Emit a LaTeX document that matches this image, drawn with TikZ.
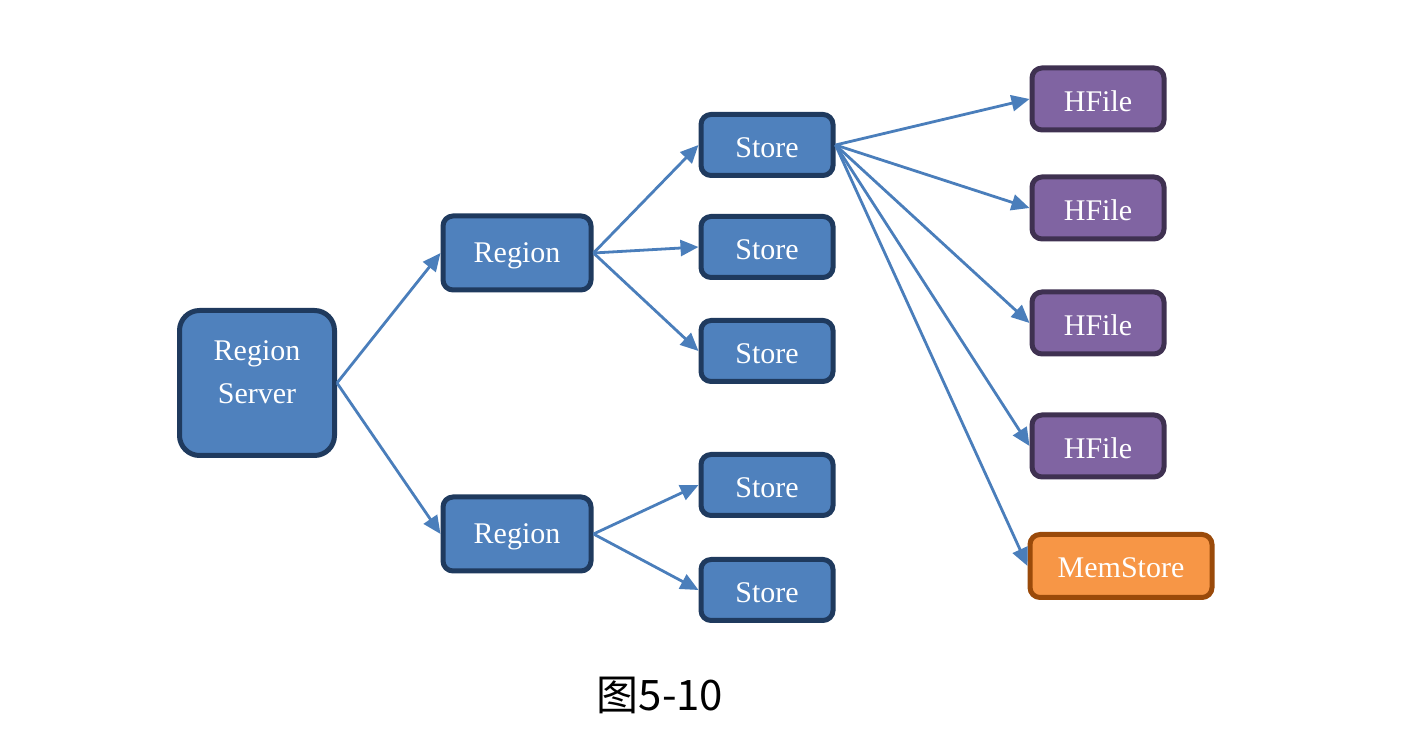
\documentclass[tikz,border=0pt]{standalone}
\usepackage{fontspec}
\setmainfont{Liberation Serif}
\newfontfamily\cjkfont{Noto Sans CJK SC}
\usetikzlibrary{arrows.meta}
\definecolor{bluefill}{HTML}{4F81BD}
\definecolor{blueedge}{HTML}{1F3A5E}
\definecolor{purplefill}{HTML}{8064A2}
\definecolor{purpleedge}{HTML}{3F3151}
\definecolor{orangefill}{HTML}{F79646}
\definecolor{orangeedge}{HTML}{9A4A0A}
\definecolor{arrowblue}{HTML}{4A7EBB}
\newcommand{\capline}[2][1.5pt]{\raisebox{-#1}[10pt][0pt]{#2}}
\tikzset{
  box/.style={rectangle, rounded corners=5pt, line width=2.5pt, inner sep=0pt,
    text=white, font=\fontsize{15}{18}\selectfont, align=center},
  bluebox/.style={box, fill=bluefill, draw=blueedge},
  purplebox/.style={box, fill=purplefill, draw=purpleedge},
  orangebox/.style={box, fill=orangefill, draw=orangeedge},
  storebox/.style={bluebox, minimum width=66pt, minimum height=30.5pt},
  regionbox/.style={bluebox, minimum width=74pt, minimum height=37pt},
  hfilebox/.style={purplebox, minimum width=66pt, minimum height=31pt},
  conn/.style={draw=arrowblue, line width=1.4pt, -{Triangle[length=9pt,width=8pt]}}
}
\begin{document}
\begin{tikzpicture}[x=0.5pt,y=-0.5pt]
\useasboundingbox (0,0) rectangle (1408,742);
\node[bluebox, rounded corners=10pt, minimum width=77.5pt, minimum height=72.5pt,
  font=\fontsize{15}{21.5}\selectfont] (rs) at (257,383) {Region\\Server\\[-11pt]};
\node[regionbox] (r1) at (517,253) {\capline[0pt]{Region}};
\node[regionbox] (r2) at (517,534) {\capline[0pt]{Region}};
\node[storebox] (s1) at (767,145) {\capline{Store}};
\node[storebox] (s2) at (767,247) {\capline{Store}};
\node[storebox] (s3) at (767,351) {\capline{Store}};
\node[storebox] (s4) at (767,485) {\capline{Store}};
\node[storebox] (s5) at (767,590) {\capline{Store}};
\node[hfilebox] (h1) at (1098,99) {\capline{HFile}};
\node[hfilebox] (h2) at (1098,208) {\capline{HFile}};
\node[hfilebox] (h3) at (1098,323) {\capline{HFile}};
\node[hfilebox] (h4) at (1098,446) {\capline{HFile}};
\node[orangebox, minimum width=91pt, minimum height=31.5pt] (ms) at (1121,566) {\capline[0.75pt]{MemStore}};
\node[font=\cjkfont\fontsize{21}{24}\selectfont] (cap) at (660,695) {图5-10};

\draw[conn] (rs.east) -- (r1.west);
\draw[conn] (rs.east) -- (r2.west);
\draw[conn] (r1.east) -- (s1.west);
\draw[conn] (r1.east) -- (s2.west);
\draw[conn] (r1.east) -- (s3.west);
\draw[conn] (r2.east) -- (s4.west);
\draw[conn] (r2.east) -- (s5.west);
\draw[conn] (s1.east) -- (h1.west);
\draw[conn] (s1.east) -- (h2.west);
\draw[conn] (s1.east) -- (h3.west);
\draw[conn] (s1.east) -- (h4.west);
\draw[conn] (s1.east) -- (ms.west);
\end{tikzpicture}
\end{document}
